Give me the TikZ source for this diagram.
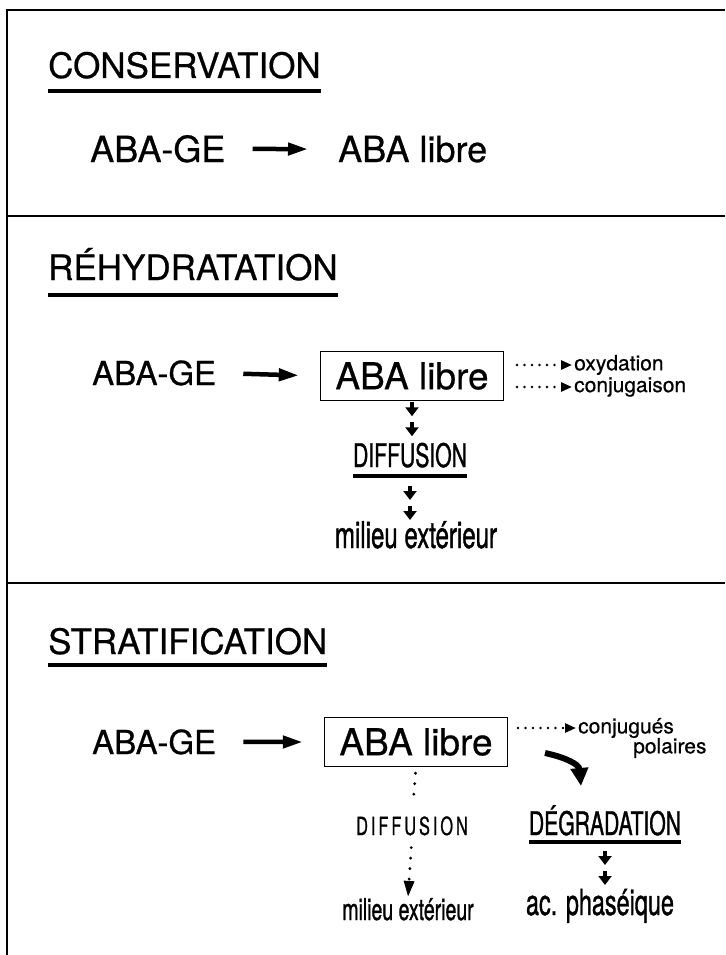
\documentclass[tikz,border=0pt]{standalone}
\usepackage{fontspec}
\usepackage{tikz}
\usetikzlibrary{arrows.meta}
\newfontfamily\hv[FakeBold=0.6]{TeX Gyre Heros}
\newfontfamily\hvcn[FakeStretch=0.65,FakeBold=1]{TeX Gyre Heros}
\newfontfamily\hvsp[FakeStretch=0.65,FakeBold=0.8,LetterSpace=12]{TeX Gyre Heros}

\begin{document}
\begin{tikzpicture}[x=1pt,y=-1pt,>={Triangle[length=20pt,width=12pt]}]
\tikzset{
    titre/.style={%
        anchor=base west, inner sep=0pt,
        font=\hv\fontsize{35}{40}\selectfont
        },
    grand/.style={%
        anchor=base west, inner sep=0pt,
        font=\hv\fontsize{36}{40}\selectfont
        },
    moyen/.style={%
        anchor=base west, inner sep=0pt,
        font=\hv\fontsize{33}{38}\selectfont
        },
    cadre/.style={%
        draw, line width=1.5pt,
        rectangle,
        minimum height=49pt,
        minimum width=183pt,
        inner sep=0pt,
        font=\hv\fontsize{37}{40}\selectfont
        },
    petit/.style={%
        anchor=west, inner sep=0pt,
        font=\hv\fontsize{21}{24}\selectfont
        },
    cond/.style={%
        anchor=base, inner sep=0pt,
        font=\hvcn\fontsize{#1}{#1}\selectfont
        },
    espace/.style={%
        anchor=base, inner sep=0pt,
        font=\hvsp\fontsize{25}{25}\selectfont
        },
    souligne/.style={line width=3.5pt},
    fleche/.style={%
        line width=4.5pt, ->,
        shorten <=27pt, shorten >=21pt
        },
    pointe/.style={%
        line width=3.5pt,
        -{Triangle[length=9pt,width=13pt]}
        },
    pointille/.style={%
        line width=2.6pt, line cap=round,
        dash pattern=on 0pt off 7.5pt,
        shorten >=2pt,
        -{Triangle[length=11pt,width=9pt]}
        },
    vpoint/.style={%
        line width=3.2pt, line cap=round,
        dash pattern=on 0pt off 10.5pt
        },
    courbe/.style={%
        line width=6pt,
        -{Triangle[length=18pt,width=17pt]}
        },
}
\useasboundingbox (0,0) rectangle (725,955);
%%%CADRES
\draw[line width=1.5pt] (725,10) -- (7,10) -- (7,955);
\draw[line width=1.5pt] (7,216) -- (725,216);
\draw[line width=1.5pt] (7,583) -- (725,583);
%%%CONSERVATION
\node[titre] (t1) at (48,78) {CONSERVATION};
\draw[souligne] ([yshift=-13pt]t1.base west) -- ([yshift=-13pt]t1.base east);
\node[grand] (g1) at (90,162) {ABA-GE};
\node[grand] (l1) at (338,162) {ABA libre};
\draw[fleche, shorten >=30pt] (g1.east) -- (l1.west);
%%%REHYDRATATION
\node[titre] (t2) at (48,280) {RÉHYDRATATION};
\draw[souligne] ([yshift=-15pt]t2.base west) -- ([yshift=-15pt]t2.base east);
\node[moyen] (g2) at (92,385) {ABA-GE};
\node[cadre] (b2) at (412,376) {ABA libre};
\draw[fleche] (g2.east) -- (b2.west);
\node[petit] (ox) at (574,365) {oxydation};
\node[petit] (cj) at (574,387) {conjugaison};
\draw[pointille] ([xshift=-57pt]ox.west) -- (ox.west);
\draw[pointille] ([xshift=-57pt]cj.west) -- (cj.west);
\node[cond=32.5] (d2) at (410,467) {DIFFUSION};
\draw[souligne] ([yshift=-9pt]d2.base west) -- ([yshift=-9pt]d2.base east);
\foreach \s in {1,21}
    \draw[pointe] ([yshift=-\s pt]b2.south) -- ++(0,14);
\foreach \s in {19,39}
    \draw[pointe] ([yshift=-\s pt]d2.base) -- ++(0,14);
\node[cond=37] (m2) at (416,548) {milieu extérieur};
%%%STRATIFICATION
\node[titre] (t3) at (48,654) {STRATIFICATION};
\draw[souligne] ([yshift=-11pt]t3.base west) -- ([yshift=-11pt]t3.base east);
\node[moyen] (g3) at (92,754) {ABA-GE};
\node[cadre] (b3) at (416,742) {ABA libre};
\draw[fleche] (g3.east) -- (b3.west);
\node[petit] (cg) at (578,728) {conjugués};
\node[petit] (po) at (633,748) {polaires};
\draw[pointille] ([xshift=-60pt]cg.west) -- (cg.west);
\node[espace] (d3) at (412,835) {DIFFUSION};
\node[cond=30] (m3) at (408,920) {milieu extérieur};
\draw[vpoint, shorten <=6pt, shorten >=12pt] (b3.south) -- (d3.north);
\draw[vpoint, shorten <=12pt, shorten >=1pt,
      -{Triangle[length=16pt,width=10pt]}] (d3.south) -- (m3.north);
\coordinate (c1) at (545,753);
\coordinate (c2) at (581,786);
\draw[courbe] (c1) .. controls (564,757) and (579,764) .. (c2);
\node[cond=32.5] (dg) at (605,835) {DÉGRADATION};
\draw[souligne] ([yshift=-7pt]dg.base west) -- ([yshift=-7pt]dg.base east);
\foreach \s in {16,36}
    \draw[pointe] ([yshift=-\s pt]dg.base) -- ++(0,14);
\node[cond=36] (ac) at (600,915) {ac. phaséique};
\end{tikzpicture}
\end{document}
